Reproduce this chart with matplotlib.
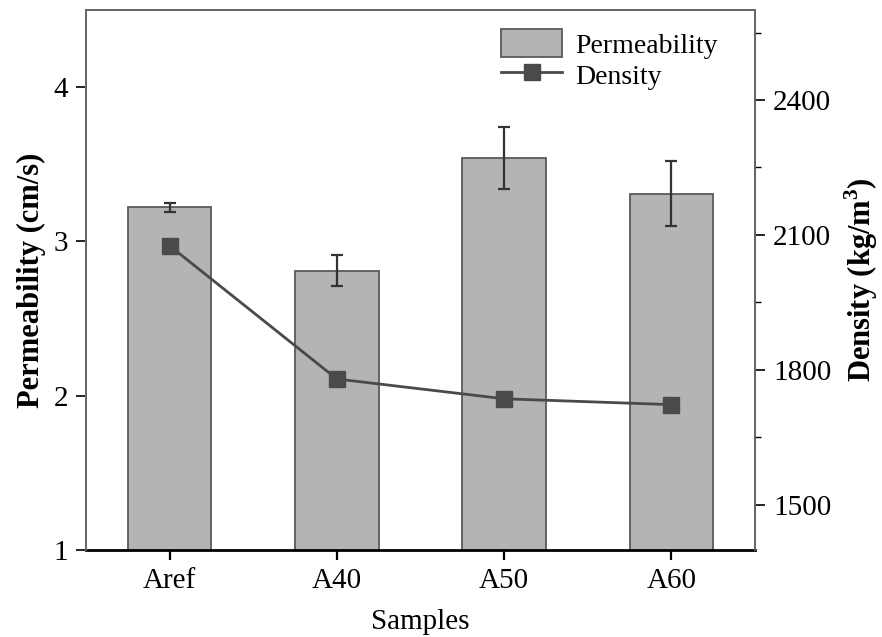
import matplotlib.pyplot as plt
from matplotlib.ticker import MultipleLocator

samples = ["Aref", "A40", "A50", "A60"]
permeability = [3.22, 2.81, 3.54, 3.31]
perm_err = [0.03, 0.10, 0.20, 0.21]
density = [2076, 1780, 1736, 1723]

BAR_FILL = "#b4b4b4"
BAR_EDGE = "#5a5a5a"
LINE_COL = "#4a4a4a"

plt.rcParams["font.family"] = ["Liberation Serif", "DejaVu Serif"]
plt.rcParams["mathtext.fontset"] = "custom"
plt.rcParams["mathtext.rm"] = "Liberation Serif"
plt.rcParams["mathtext.bf"] = "Liberation Serif:bold"


def main():
    fig = plt.figure(figsize=(8.82, 6.37), dpi=100)
    ax1 = fig.add_axes([0.0975, 0.1366, 0.7585, 0.8477])
    ax2 = ax1.twinx()

    x = list(range(len(samples)))
    bars = ax1.bar(x, permeability, width=0.5, color=BAR_FILL,
                   edgecolor=BAR_EDGE, linewidth=1.3, label="Permeability",
                   zorder=2)
    ax1.errorbar(x, permeability, yerr=perm_err, fmt="none", ecolor="#333333",
                 elinewidth=1.6, capsize=4.5, capthick=1.6, zorder=3)

    line, = ax2.plot(x, density, color=LINE_COL, linewidth=2, marker="s",
                     markersize=11, markerfacecolor=LINE_COL,
                     markeredgecolor=LINE_COL, label="Density", zorder=4)

    ax1.set_xlim(-0.5, 3.5)
    ax1.set_ylim(1, 4.5)
    ax1.yaxis.set_major_locator(MultipleLocator(1))
    ax2.set_ylim(1400, 2600)
    ax2.yaxis.set_major_locator(MultipleLocator(300))
    ax2.yaxis.set_minor_locator(MultipleLocator(150))

    ax1.set_xticks(x)
    ax1.set_xticklabels(samples)

    ax1.tick_params(axis="both", direction="out", length=7, width=1.2,
                    labelsize=21, pad=6)
    ax1.tick_params(axis="x", width=1.6, pad=6)
    ax2.tick_params(axis="y", which="major", direction="out", length=7,
                    width=1.2, labelsize=21, pad=6)
    ax2.tick_params(axis="y", which="minor", direction="out", length=4,
                    width=1.0)

    for sp in ["left", "right", "top"]:
        ax1.spines[sp].set_color("#666666")
        ax1.spines[sp].set_linewidth(1.3)
        ax2.spines[sp].set_color("#666666")
        ax2.spines[sp].set_linewidth(1.3)
    ax1.spines["bottom"].set_color("black")
    ax1.spines["bottom"].set_linewidth(2)
    ax2.spines["bottom"].set_visible(False)

    ax1.set_xlabel("Samples", fontsize=21, labelpad=11)
    ax1.set_ylabel("Permeability (cm/s)", fontsize=22, fontweight="bold",
                   labelpad=5)
    ax2.set_ylabel(r"Density (kg/m$^\mathbf{3}$)", fontsize=22,
                   fontweight="bold", labelpad=8)

    ax2.legend([bars, line], ["Permeability", "Density"], loc="upper right",
               bbox_to_anchor=(0.977, 1.006), frameon=False, fontsize=20,
               handlelength=2.2, handleheight=1.2, handletextpad=0.45,
               labelspacing=0.06, borderaxespad=0.4)

    fig.savefig("out.png", dpi=100)


if __name__ == "__main__":
    main()
